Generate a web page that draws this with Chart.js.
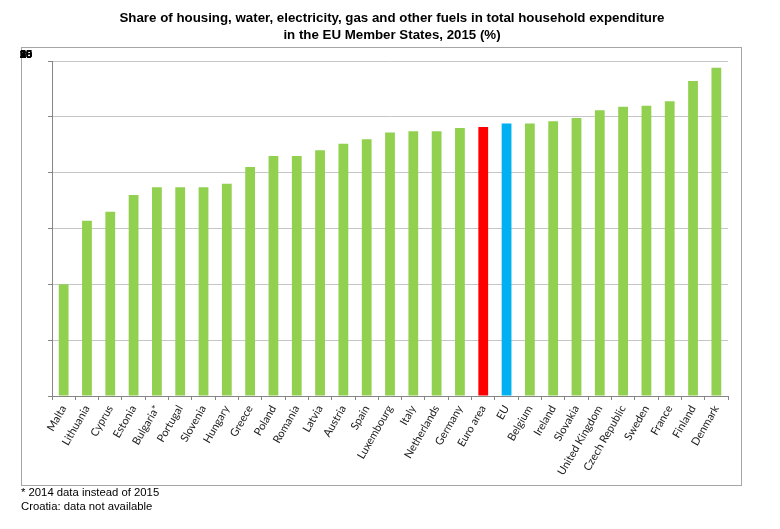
<!DOCTYPE html>
<html>
<head>
<meta charset="utf-8">
<script src="https://cdn.jsdelivr.net/npm/chart.js@4"></script>
<style>
  html, body { margin: 0; padding: 0; background: #fff; }
  #wrap { width: 780px; height: 529px; position: relative; }
</style>
</head>
<body>
<div id="wrap"><canvas id="housingChart" width="780" height="529"></canvas></div>
<script>
const countries = ['Malta', 'Lithuania', 'Cyprus', 'Estonia', 'Bulgaria*', 'Portugal', 'Slovenia', 'Hungary',
  'Greece', 'Poland', 'Romania', 'Latvia', 'Austria', 'Spain', 'Luxembourg', 'Italy', 'Netherlands',
  'Germany', 'Euro area', 'EU', 'Belgium', 'Ireland', 'Slovakia', 'United Kingdom', 'Czech Republic',
  'Sweden', 'France', 'Finland', 'Denmark'];
const shares = [10.0, 15.7, 16.5, 18.0, 18.7, 18.7, 18.7, 19.0, 20.5, 21.5, 21.5, 22.0, 22.6, 23.0, 23.6,
  23.7, 23.7, 24.0, 24.1, 24.4, 24.4, 24.6, 24.9, 25.6, 25.9, 26.0, 26.4, 28.2, 29.4];
const yTicks = [0, 5, 10, 15, 20, 25, 30];
const titleLines = ['Share of housing, water, electricity, gas and other fuels in total household expenditure',
  'in the EU Member States, 2015 (%)'];
const footnotes = ['* 2014 data instead of 2015', 'Croatia: data not available'];

const green = '#92D050';
const barColors = countries.map(c => c === 'Euro area' ? '#FF0000' : (c === 'EU' ? '#00B0F0' : green));

// title, frame, footnotes and the (overlapping) y labels
const decorations = {
  id: 'decorations',
  beforeDraw: (chart) => {
    const ctx = chart.ctx;
    ctx.save();
    ctx.fillStyle = '#fff';
    ctx.fillRect(0, 0, chart.width, chart.height);
    ctx.strokeStyle = '#a6a6a6';
    ctx.lineWidth = 1;
    ctx.strokeRect(21.5, 47.5, 720, 438);
    ctx.restore();
  },
  afterDraw: (chart) => {
    const ctx = chart.ctx;
    ctx.save();
    ctx.fillStyle = '#000';
    ctx.textAlign = 'center';
    ctx.textBaseline = 'middle';
    ctx.font = 'bold 13.3px "Liberation Sans", Arial, sans-serif';
    titleLines.forEach((t, i) => ctx.fillText(t, 392, 18 + i * 17.5));

    ctx.textAlign = 'left';
    ctx.font = '11.3px "Liberation Sans", Arial, sans-serif';
    footnotes.forEach((t, i) => ctx.fillText(t, 21, 493 + i * 14));

    ctx.font = 'bold 11px "Liberation Sans", Arial, sans-serif';
    chart.scales.y.ticks.forEach(t => ctx.fillText(String(t.value), 20, 55));
    ctx.restore();
  }
};

new Chart(document.getElementById('housingChart').getContext('2d'), {
  type: 'bar',
  data: {
    labels: countries,
    datasets: [{
      data: shares,
      backgroundColor: barColors,
      barPercentage: 0.42,
      categoryPercentage: 1
    }]
  },
  options: {
    responsive: false,
    animation: false,
    layout: { padding: { left: 44, right: 52, top: 61, bottom: 40 } },
    plugins: {
      legend: { display: false },
      tooltip: { enabled: false }
    },
    scales: {
      x: {
        afterFit: s => { s.height = 93; },
        grid: { drawOnChartArea: false, tickLength: 4, color: '#868686' },
        border: { color: '#868686' },
        ticks: {
          color: '#222',
          maxRotation: 60,
          minRotation: 60,
          autoSkip: false,
          padding: 3,
          font: { family: 'Lato, "Open Sans", sans-serif', size: 11 }
        }
      },
      y: {
        min: 0,
        max: 30,
        afterBuildTicks: s => { s.ticks = yTicks.map(v => ({ value: v })); },
        afterFit: s => { s.width = 8; },
        grid: { color: '#c6c6c6', tickLength: 4, tickColor: '#868686' },
        border: { color: '#868686' },
        ticks: { display: false }
      }
    }
  },
  plugins: [decorations]
});
</script>
</body>
</html>
